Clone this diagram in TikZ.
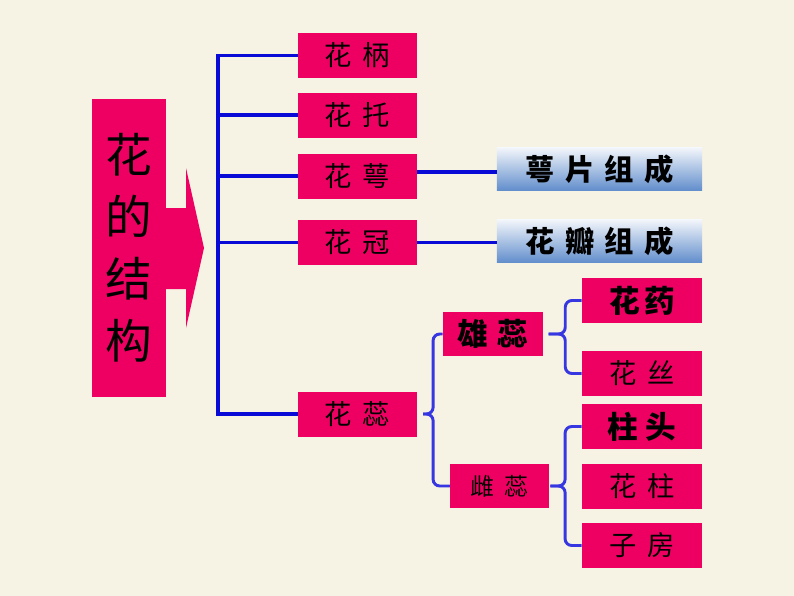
\documentclass[tikz,border=0pt]{standalone}
\usepackage{fontspec}
\newfontfamily\cjk{Noto Sans CJK SC}
\usetikzlibrary{positioning}

\definecolor{bg}{RGB}{246,243,228}
\definecolor{rose}{RGB}{238,0,98}
\definecolor{trunkblue}{RGB}{10,10,215}
\definecolor{braceblue}{RGB}{55,55,225}
\definecolor{steel}{RGB}{98,142,204}

\newcommand\gp{\hspace{0.4em}}

\tikzset{
  part/.style={fill=rose, minimum width=89pt, minimum height=33.75pt, inner sep=0pt,
    font=\cjk\fontsize{20.5}{20.5}\selectfont},
  sub/.style={part, minimum width=90pt},
  boldpart/.style={font=\cjk\bfseries\fontsize{23}{23}\selectfont},
  made/.style={minimum width=154pt, minimum height=32pt, inner sep=0pt,
    top color=white!92!steel, bottom color=steel,
    font=\cjk\bfseries\fontsize{22}{22}\selectfont},
  trunk/.style={trunkblue, line width=2.6pt},
  brace/.style={braceblue, line width=2.2pt, rounded corners=5pt},
}

\begin{document}
\begin{tikzpicture}[x=0.75pt,y=-0.75pt]
\fill[bg] (0,0) rectangle (794,596);
\useasboundingbox (0,0) rectangle (794,596);

% the big title box and its arrow
\node[fill=rose, minimum width=55.5pt, minimum height=223.5pt, inner sep=0pt, align=center,
  font=\cjk\fontsize{35}{46.5}\selectfont] (jiegou) at (129,248) {花\\的\\结\\构};
\fill[rose] (165,208) -- (186,208) -- (186,168) -- (204,248) -- (186,328) -- (186,289) -- (165,289) -- cycle;

% five parts
\node[part] (bing) at (357.5,55.5) {花\gp 柄};
\node[part] (tuo) at (357.5,115) {花\gp 托};
\node[part] (e) at (357.5,176) {花\gp 萼};
\node[part] (guan) at (357.5,242.5) {花\gp 冠};
\node[part] (rui) at (357.5,414) {花\gp 蕊};

\node[made] (epian) at (599.5,169) {萼\hspace{0.35em}片\hspace{0.35em}组\hspace{0.35em}成};
\node[made] (ban) at (599.5,241) {花\hspace{0.35em}瓣\hspace{0.35em}组\hspace{0.35em}成};

\node[part, boldpart, minimum width=75pt, minimum height=33pt] (xiong) at (493,334) {雄\hspace{0.3em}蕊};
\node[part, minimum width=74pt, minimum height=33pt, font=\cjk\fontsize{18}{18}\selectfont] (ci) at (499.5,486) {雌\gp 蕊};

\node[sub, boldpart] (yao) at (642,300.5) {花\hspace{0.15em}药};
\node[sub] (si) at (642,373.5) {花\gp 丝};
\node[sub, boldpart] (tou) at (642,426.5) {柱\hspace{0.25em}头};
\node[sub] (zhu) at (642,486.5) {花\gp 柱};
\node[sub] (fang) at (642,545.5) {子\gp 房};

% trunk line
\coordinate (stem) at (218,0);
\draw[trunk] (bing.west) -- (bing.west -| stem) -- (rui.west -| stem) -- (rui.west);
\foreach \n in {tuo,e,guan}
  \draw[trunk] (\n.west -| stem) -- (\n.west);
\draw[trunk] ([yshift=3pt]e.east) -- ([yshift=3pt]e.east -| epian.west);
\draw[trunk] (guan.east) -- (guan.east -| ban.west);

% braces
\draw[brace] (xiong.west) -| ([xshift=12pt]rui.east) -- ([xshift=4.5pt]rui.east);
\draw[brace] (ci.west) -| ([xshift=12pt]rui.east) -- ([xshift=4.5pt]rui.east);
\draw[brace] (yao.west) -| ([xshift=16.5pt]xiong.east) -- ([xshift=4pt]xiong.east);
\draw[brace] (si.west) -| ([xshift=16.5pt]xiong.east) -- ([xshift=4pt]xiong.east);
\draw[brace] (tou.west) -| ([xshift=12pt]ci.east) -- ([xshift=1pt]ci.east);
\draw[brace] (fang.west) -| ([xshift=12pt]ci.east) -- ([xshift=1pt]ci.east);
\end{tikzpicture}
\end{document}
